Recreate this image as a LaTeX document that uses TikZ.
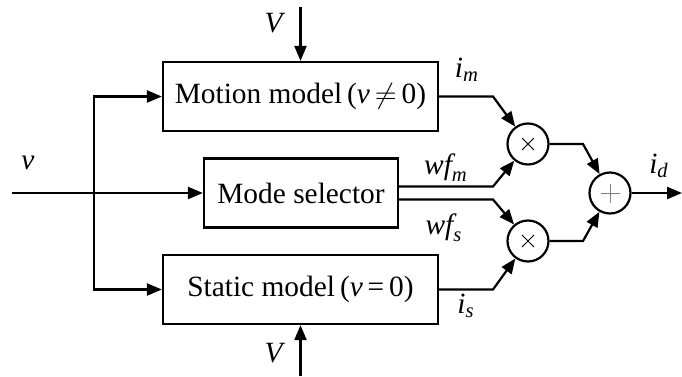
\documentclass[tikz,border=0pt]{standalone}
\usepackage{amsmath}
\usepackage{fontspec}
\setmainfont{Liberation Serif}
\usetikzlibrary{arrows.meta,positioning,calc}

\tikzset{
  blk/.style={draw, line width=1.1pt, minimum height=34.5pt, inner sep=0pt},
  sig/.style={line width=1.1pt, -{Triangle[length=7.5pt,width=6pt]}},
  mult/.style={circle, draw, line width=1.1pt, minimum size=20.5pt, inner sep=0pt,
    path picture={
      \draw[line width=0.45pt] ([shift={(-3pt,-3pt)}]path picture bounding box.center) -- ++(6pt,6pt);
      \draw[line width=0.45pt] ([shift={(-3pt,3pt)}]path picture bounding box.center) -- ++(6pt,-6pt);}},
  summ/.style={circle, draw, line width=1.1pt, minimum size=20.5pt, inner sep=0pt,
    path picture={
      \draw[gray, line width=0.45pt] ([xshift=-4.75pt]path picture bounding box.center) -- ++(9.5pt,0);
      \draw[gray, line width=0.45pt] ([yshift=-4.75pt]path picture bounding box.center) -- ++(0,9.5pt);}},
}

\begin{document}
\begin{tikzpicture}[x=0.5pt, y=-0.5pt, font=\fontsize{14.7}{17}\selectfont]
 \useasboundingbox (0,0) rectangle (682,376);

 % blocks
 \node[blk, minimum width=137.5pt] (motion) at (300.5,96.5) {Motion model\,(\textit{v}\,$\neq$\,0)};
 \node[blk, minimum width=97pt] (selector) at (301,193) {Mode selector};
 \node[blk, minimum width=137.5pt] (static) at (300.5,289.5) {Static model\,(\textit{v}\,=\,0)};
 \node[mult] (mtop) at (528,144) {};
 \node[mult] (mbot) at (528,241) {};
 \node[summ] (sum) at (610,193) {};

 \coordinate (vin) at (12,193);
 \coordinate (fork) at (94,193);
 \coordinate (Vtop) at (300.5,7);
 \coordinate (Vbot) at (300.5,376);
 \coordinate (bendA) at (493,0);
 \coordinate (bendB) at (583,0);
 \coordinate (out) at (682,193);

 % inputs
 \draw[sig] (vin) -- (selector.west);
 \draw[sig] (fork) |- (motion.west);
 \draw[sig] (fork) |- (static.west);
 \draw[sig] (Vtop) -- (motion.north);
 \draw[sig] (Vbot) -- (static.south);

 % outputs
 \draw[sig] (motion.east) -- (motion.east -| bendA) -- (mtop);
 \draw[sig] ([yshift=3.25pt]selector.east) -- ([yshift=3.25pt]selector.east -| bendA) -- (mtop);
 \draw[sig] ([yshift=-3.25pt]selector.east) -- ([yshift=-3.25pt]selector.east -| bendA) -- (mbot);
 \draw[sig] (static.east) -- (static.east -| bendA) -- (mbot);
 \draw[sig] (mtop.east) -- (mtop.east -| bendB) -- (sum);
 \draw[sig] (mbot.east) -- (mbot.east -| bendB) -- (sum);
 \draw[sig] (sum.east) -- (out);

 % labels
 \node (Vtl) at (275,23) {\textit{V}};
 \node (Vbl) at (275,353) {\textit{V}};
 \node (vl) at (28,163) {\textit{v}};
 \node (iml) at (467,70) {$\textit{i}_{\textit{m}}$};
 \node (wfml) at (446,168) {$\textit{wf}_{\textit{m}}$};
 \node (wfsl) at (444,228) {$\textit{wf}_{\textit{s}}$};
 \node (isl) at (466,306) {$\textit{i}_{\textit{s}}$};
 \node (idl) at (659,166) {$\textit{i}_{\textit{d}}$};
\end{tikzpicture}
\end{document}
